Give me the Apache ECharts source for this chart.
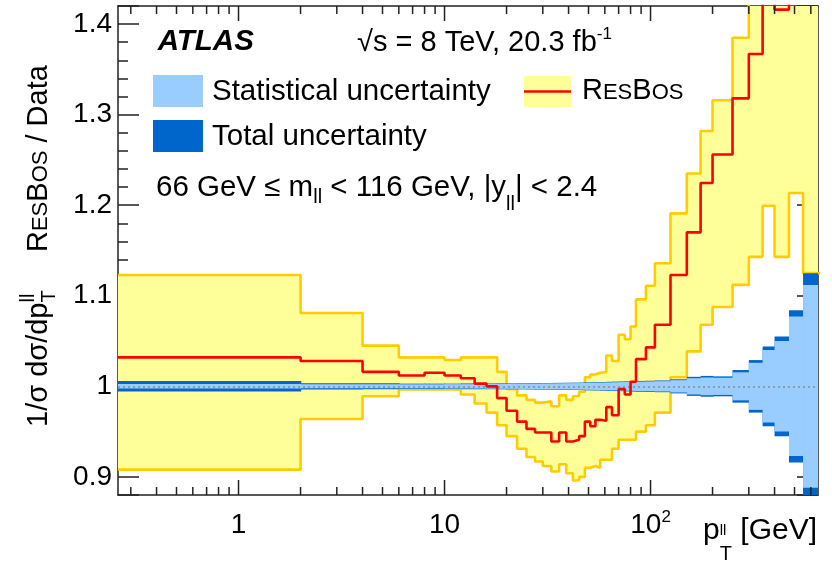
<!DOCTYPE html>
<html>
<head>
<meta charset="utf-8">
<script src="https://cdn.jsdelivr.net/npm/echarts@6/dist/echarts.min.js"></script>
<style>html,body{margin:0;padding:0;background:#fff}#c{width:832px;height:565px}</style>
</head>
<body>
<div id="c"></div>
<script>
// ---------------- data ----------------
const BIN_EDGES = [0, 2, 4, 6, 8, 10, 12, 14, 16, 18, 20, 22.5, 25, 27.5, 30, 33, 36, 39, 42, 45, 48, 51, 54, 57, 61, 65, 70, 75, 80, 85, 95, 105, 125, 150, 175, 200, 250, 300, 350, 400, 470, 550, 900];
const RESBOS_RATIO = [1.032,1.028,1.016,1.012,1.015,1.012,1.009,1.003,1.000,0.987,0.973,0.961,0.953,0.949,0.949,0.939,0.949,0.939,0.941,0.945,0.961,0.956,0.963,0.962,0.977,0.968,0.997,0.991,1.005,1.030,1.043,1.068,1.123,1.170,1.2245,1.256,1.318,1.367,1.45,1.416,1.46,1.49];
const RESBOS_UP = [1.123,1.081,1.045,1.032,1.032,1.029,1.032,1.032,1.032,1.016,0.997,0.990,0.985,0.982,0.9835,0.978,0.990,0.985,0.989,0.994,1.010,1.013,1.015,1.016,1.034,1.028,1.057,1.052,1.066,1.096,1.111,1.136,1.191,1.235,1.282,1.316,1.385,1.52,1.60,1.62,1.68,1.75];
const RESBOS_DOWN = [0.908,0.964,0.989,0.9965,0.9965,0.9965,0.991,0.981,0.971,0.957,0.945,0.931,0.922,0.917,0.912,0.906,0.914,0.904,0.896,0.900,0.910,0.912,0.910,0.919,0.919,0.931,0.941,0.941,0.941,0.950,0.957,0.971,1.010,1.0386,1.068,1.0876,1.112,1.143,1.1995,1.143,1.2135,1.125];
const TOTAL_UNC = [0.0058,0.0035,0.0033,0.003,0.003,0.003,0.0032,0.0032,0.0032,0.0033,0.0033,0.0034,0.0035,0.0036,0.0037,0.0038,0.0039,0.004,0.0041,0.0042,0.0044,0.0045,0.0046,0.0048,0.005,0.0052,0.0054,0.0056,0.0058,0.006,0.0062,0.0065,0.0078,0.0105,0.0115,0.011,0.018,0.029,0.044,0.055,0.084,0.125];
const STAT_UNC = [0.0025,0.0022,0.0022,0.0022,0.0022,0.0024,0.0024,0.0025,0.0026,0.0027,0.0028,0.0029,0.003,0.0031,0.0032,0.0033,0.0034,0.0035,0.0036,0.0037,0.0038,0.0039,0.004,0.0042,0.0043,0.0045,0.0047,0.0049,0.005,0.0052,0.0054,0.0057,0.0068,0.009,0.0098,0.0095,0.0155,0.026,0.040,0.050,0.077,0.112];
const X_TICKS = [0.3,0.4,0.5,0.6,0.7,0.8,0.9,1,2,3,4,5,6,7,8,9,10,20,30,40,50,60,70,80,90,100,200,300,400,500,600];
const X_LABEL_AT = [1, 10, 100];
const X_LABEL_BASE = ['1', '10', '10'];
const X_LABEL_EXP = ['', '', '2'];
const X_MIN = 0.26, X_MAX = 650, Y_MIN = 0.88, Y_MAX = 1.42;

// ---------------- helpers ----------------
const FONT = "'Liberation Sans', Arial, Helvetica, sans-serif";
const cv = document.createElement('canvas').getContext('2d');
function fontStr(p){ return (p.it?'italic ':'') + (p.bold?'bold ':'') + p.fs + 'px ' + FONT; }
function measure(p){ cv.font = fontStr(p); return cv.measureText(p.t).width; }
function run(parts, o){
  let cx = 0, pend = 0; const kids = [];
  parts.forEach(p => {
    const w = measure(p);
    kids.push({type:'text', x: cx, y: (p.dy||0) - 0.36*p.fs,
      style:{text:p.t, font:fontStr(p), fill:p.fill||'#000', align:'left', verticalAlign:'middle'}});
    if (p.stack) { pend = Math.max(pend, w); }
    else { cx += Math.max(w, pend); pend = 0; }
  });
  if (o.align === 'right') kids.forEach(k => k.x -= cx);
  return {type:'group', x:o.x, y:o.y, rotation:o.rot||0, silent:true, z:100, children:kids};
}
const xLo = i => Math.max(BIN_EDGES[i], X_MIN);
const binData = (lo, hi) => lo.map((_, i) => [xLo(i), BIN_EDGES[i+1], lo[i], hi[i]]);
const stepData = arr => arr.map((v, i) => [xLo(i), v]).concat([[BIN_EDGES[arr.length], arr[arr.length-1]]]);

function rectSeries(data, color, z){
  return {type:'custom', coordinateSystem:'cartesian2d', clip:true, silent:true, z,
    encode:{x:[0,1], y:[2,3]}, data,
    renderItem(params, api){
      const p0 = api.coord([api.value(0), api.value(3)]);
      const p1 = api.coord([api.value(1), api.value(2)]);
      return {type:'rect', shape:{x:p0[0], y:p0[1], width:p1[0]-p0[0]+0.7, height:p1[1]-p0[1]},
        style:{fill:color}};
    }};
}
function stepSeries(arr, color, width, z){
  return {type:'line', step:'end', data:stepData(arr), symbol:'none', silent:true, clip:true, z,
    lineStyle:{color, width}};
}

const yAxisBase = {
  type:'value', min:Y_MIN, max:Y_MAX, splitNumber:5,
  axisLine:{show:true, lineStyle:{color:'#222', width:1.5}},
  axisTick:{show:true, inside:true, length:21, lineStyle:{color:'#222', width:1.5}},
  minorTick:{show:true, splitNumber:5, length:10, lineStyle:{color:'#222', width:1.5}},
  splitLine:{show:false}, minorSplitLine:{show:false}
};
const xAxisBase = {
  type:'log', logBase:10, min:X_MIN, max:X_MAX,
  axisLine:{show:true, onZero:false, lineStyle:{color:'#222', width:1.5}},
  axisTick:{show:false}, minorTick:{show:false}, axisLabel:{show:false}, splitLine:{show:false}
};

const option = {
  animation:false,
  backgroundColor:'#fff',
  grid:{left:118, right:14, top:6, bottom:70, containLabel:false, outerBoundsMode:'none'},
  xAxis:[
    Object.assign({}, xAxisBase, {position:'bottom'}),
    Object.assign({}, xAxisBase, {position:'top'})
  ],
  yAxis:[
    Object.assign({}, yAxisBase, {position:'left',
      axisLabel:{show:true, fontSize:28, color:'#000', fontFamily:FONT, margin:6, showMinLabel:false, showMaxLabel:false}}),
    Object.assign({}, yAxisBase, {position:'right', axisLabel:{show:false}})
  ],
  series:[
    rectSeries(binData(RESBOS_DOWN, RESBOS_UP), '#ffff99', 1),
    stepSeries(RESBOS_UP, '#ffcc00', 2.6, 2),
    stepSeries(RESBOS_DOWN, '#ffcc00', 2.6, 2),
    rectSeries(binData(TOTAL_UNC.map(u => 1 - u), TOTAL_UNC.map(u => 1 + u)), '#0066cc', 3),
    rectSeries(binData(STAT_UNC.map(u => 1 - u), STAT_UNC.map(u => 1 + u)), '#99ccff', 4),
    {type:'line', data:[], z:5, silent:true,
      markLine:{silent:true, symbol:['none','none'], label:{show:false},
        lineStyle:{type:[2,3], color:'#8c8c8c', width:1.5}, data:[{yAxis:1}]}},
    stepSeries(RESBOS_RATIO, '#ff0000', 2.6, 6),
    {type:'custom', coordinateSystem:'cartesian2d', clip:false, silent:true, z:7,
      encode:{x:0, y:1}, data:X_TICKS.map(v => [v, Y_MIN]),
      renderItem(params, api){
        const v = api.value(0), lg = Math.log10(v);
        const len = Math.abs(lg - Math.round(lg)) < 1e-6 ? 15 : 8;
        const pb = api.coord([v, Y_MIN]), pt = api.coord([v, Y_MAX]);
        const st = {stroke:'#222', lineWidth:1.5};
        return {type:'group', children:[
          {type:'line', shape:{x1:pb[0], y1:pb[1], x2:pb[0], y2:pb[1]-len}, style:st},
          {type:'line', shape:{x1:pt[0], y1:pt[1], x2:pt[0], y2:pt[1]+len}, style:st}
        ]};
      }},
    {type:'custom', coordinateSystem:'cartesian2d', clip:false, silent:true, z:7,
      encode:{x:0, y:1}, data:X_LABEL_AT.map((v, i) => [v, Y_MIN, i]),
      renderItem(params, api){
        const i = api.value(2);
        const p = api.coord([api.value(0), Y_MIN]);
        const base = {t:X_LABEL_BASE[i], fs:28}, exp = {t:X_LABEL_EXP[i], fs:17};
        const wb = measure(base), we = exp.t ? measure(exp) : 0;
        const x0 = p[0] - (wb + we)/2;
        const cy = p[1] + 40 - 0.36*28;
        const kids = [{type:'text', x:x0, y:cy, style:{text:base.t, font:fontStr(base), fill:'#000', align:'left', verticalAlign:'middle'}}];
        if (exp.t) kids.push({type:'text', x:x0+wb, y:p[1] + 28 - 0.36*17, style:{text:exp.t, font:fontStr(exp), fill:'#000', align:'left', verticalAlign:'middle'}});
        return {type:'group', children:kids};
      }}
  ],
  graphic:[
    run([{t:'ATLAS', fs:29.5, bold:true, it:true}], {x:157.7, y:52.7}),
    run([{t:'\u221As = 8 TeV, 20.3 fb', fs:29}, {t:'-1', fs:17, dy:-13}], {x:357, y:53}),
    {type:'rect', shape:{x:153, y:75, width:50, height:32}, style:{fill:'#99ccff'}, z:100, silent:true},
    {type:'rect', shape:{x:153, y:120, width:50, height:32}, style:{fill:'#0066cc'}, z:100, silent:true},
    {type:'rect', shape:{x:524, y:76, width:47, height:31}, style:{fill:'#ffff99'}, z:100, silent:true},
    {type:'line', shape:{x1:524, y1:91.5, x2:571, y2:91.5}, style:{stroke:'#ff0000', lineWidth:2.4}, z:101, silent:true},
    run([{t:'Statistical uncertainty', fs:29.5}], {x:212, y:102}),
    run([{t:'Total uncertainty', fs:29.5}], {x:212, y:147}),
    run([{t:'R', fs:29}, {t:'ES', fs:22}, {t:'B', fs:29}, {t:'OS', fs:22}], {x:582, y:101}),
    run([{t:'66 GeV \u2264 m', fs:29.5}, {t:'ll', fs:20, dy:7}, {t:' < 116 GeV, |y', fs:29.5}, {t:'ll', fs:20, dy:14}, {t:'| < 2.4', fs:29.5}], {x:156, y:198}),
    run([{t:'p', fs:30}, {t:'T', fs:20, dy:20, stack:true}, {t:'ll', fs:15, dy:-5}, {t:' [GeV]', fs:30}], {x:817, y:541.7, align:'right'}),
    run([{t:'1/\u03C3 d\u03C3/dp', fs:29}, {t:'T', fs:20, dy:8, stack:true}, {t:'ll', fs:20, dy:-13}], {x:49, y:427, rot:Math.PI/2}),
    run([{t:'R', fs:29}, {t:'ES', fs:22}, {t:'B', fs:29}, {t:'OS', fs:22}, {t:' / Data', fs:29}], {x:49, y:252, rot:Math.PI/2})
  ]
};
const chart = echarts.init(document.getElementById('c'), null, {renderer:'canvas'});
chart.setOption(option);
</script>
</body>
</html>
